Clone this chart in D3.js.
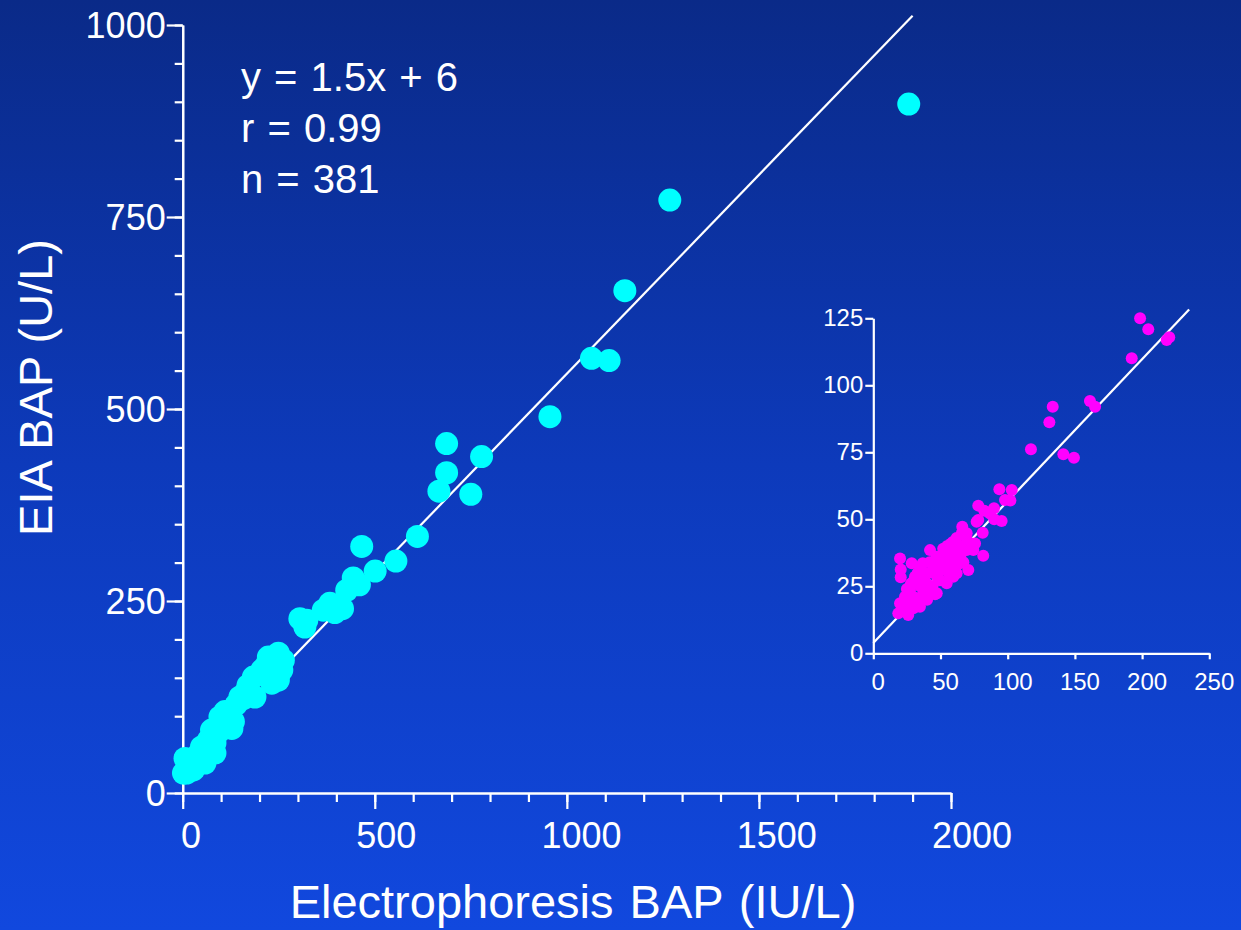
<!DOCTYPE html>
<html><head><meta charset="utf-8">
<script src="https://cdn.jsdelivr.net/npm/d3@7"></script>
<style>body{margin:0;padding:0;overflow:hidden}svg{display:block}text{font-family:"Liberation Sans",Arial,sans-serif;fill:#fff}</style>
</head><body>
<script>
// ---------- data ----------
const mainXTicks = [0, 500, 1000, 1500, 2000];
const mainYTicks = [0, 250, 500, 750, 1000];
const insetXTicks = [0, 50, 100, 150, 200, 250];
const insetYTicks = [0, 25, 50, 75, 100, 125];
const statsLines = ["y = 1.5x + 6", "r = 0.99", "n = 381"];
const xTitle = "Electrophoresis BAP (IU/L)";
const yTitle = "EIA BAP (U/L)";
// main fit line endpoints [x, y]
const mainFit = [[0, 28], [1900, 1012]];
// inset fit line endpoints
const insetFit = [[0, 3.8], [235, 128.3]];
// main scatter: Electrophoresis BAP (x), EIA BAP (y)
const mainX = [1890,1268,1151,1064,1110,956,687,778,687,667,750,611,555,466,501,444,460,427,383,416,396,366,305,323,318,249,223,262,258,249,232,184,167,149,188,158,110,97,128,132,75,67,84,84,49,36,19,6,58,10,2,28,45,62,80,106,119,139,206,14,30,40,95,120,170,215];
const mainY = [897,772,654,566,563,490,455,438,417,393,389,334,302,321,289,280,271,264,247,240,235,238,227,225,216,182,177,173,160,147,143,151,134,125,125,123,106,99,84,93,82,69,65,52,60,47,41,45,39,26,26,30,52,60,73,95,104,115,160,35,36,50,80,90,140,165];
// inset scatter
const insetX = [198.5,204.6,218.3,220.2,192.3,133.5,131,161.2,165,117.3,141.4,149.3,
 93.8,103,98,102,78.1,89.8,82.6,86.8,95.5,90,78.1,76.9,66.2,81.4,69.5,75.7,59.5,81.8,70.7,69.5,74.4,64.5,60,
 19.9,28.6,20.4,20.4,36.8,31,42.2,
 18.6,26,19.9,23.6,29.8,34.7,47.2,27.3,32.3,37.2,42.2,39.7,44.6,49.6,49.6,54.6,59.5,62,64.5,52.1,54.6,39.7,45,50,55,60,65,57,48,44,35,30,25,22,40,46,30,33,38,42,47,52,56,60,67,63,58,62,66,70,72,50,55,25,28,35];
const insetY = [125,120.9,116.9,117.9,110.1,92,86.2,94.1,92,76.1,74.3,73,
 61.2,60.9,57.2,57,55.1,54.1,53.2,52.2,49.4,50,49.7,49.1,47.2,45,44.8,41,41.6,36.4,31.1,38.5,38.5,40,38,
 35.4,33.6,31.3,28.4,33.6,28.6,38.5,
 14.9,14.3,18.7,21.1,16.8,17.4,22.4,23.6,19.9,22.4,23.6,26.1,32.3,34.8,27.3,26.1,28.6,29.9,33.6,32.3,36,29.9,30,31,33,35,37,38,28,25,25,21,19,17,20,22,27,30,28,34,36,39,30,31,34,36,41,43,45,42,40,36,40,24,26,32];

// ---------- drawing ----------
const W = 1241, H = 930;
const svg = d3.select("body").append("svg").attr("width", W).attr("height", H);
const defs = svg.append("defs");
const grad = defs.append("linearGradient").attr("id","bg").attr("x1",0).attr("y1",0).attr("x2",0).attr("y2",1);
grad.append("stop").attr("offset","0%").attr("stop-color","#0a2a88");
grad.append("stop").attr("offset","50%").attr("stop-color","#0d3abb");
grad.append("stop").attr("offset","100%").attr("stop-color","#1148de");
svg.append("rect").attr("width",W).attr("height",H).attr("fill","url(#bg)");

// main scales
const x = d3.scaleLinear().domain([0,2000]).range([182.7,951]);
const y = d3.scaleLinear().domain([0,1000]).range([793,25]);
const xLab = d3.scaleLinear().domain([0,2000]).range([191,972]);

function styleAxis(g){
  g.selectAll("path,line").attr("stroke","#fff").attr("stroke-width",2.2);
  g.selectAll("text").remove();
}
// y axis minor + major
svg.append("g").attr("transform",`translate(${x(0)},0)`)
  .call(d3.axisLeft(y).tickValues(d3.range(0,1001,50)).tickSize(8).tickSizeOuter(0)).call(styleAxis);
svg.append("g").attr("transform",`translate(${x(0)},0)`)
  .call(d3.axisLeft(y).tickValues(mainYTicks).tickSize(16).tickSizeOuter(0)).call(styleAxis);
// x axis minor + major
svg.append("g").attr("transform",`translate(0,${y(0)})`)
  .call(d3.axisBottom(x).tickValues(d3.range(0,2001,100)).tickSize(9).tickSizeOuter(0)).call(styleAxis);
svg.append("g").attr("transform",`translate(0,${y(0)})`)
  .call(d3.axisBottom(x).tickValues(mainXTicks).tickSize(16).tickSizeOuter(0)).call(styleAxis);

svg.append("g").selectAll("text").data(mainYTicks).join("text")
  .attr("x", x(0)-17).attr("y", d=>y(d)).attr("dy","0.36em")
  .attr("text-anchor","end").attr("font-size",36).text(d=>d);
svg.append("g").selectAll("text").data(mainXTicks).join("text")
  .attr("x", d=>xLab(d)).attr("y", 848)
  .attr("text-anchor","middle").attr("font-size",36).text(d=>d);

svg.append("text").attr("x",573).attr("y",918).attr("text-anchor","middle")
  .attr("font-size",47).attr("word-spacing",3).text(xTitle);
svg.append("text").attr("transform","translate(51.5,387.5) rotate(-90)").attr("text-anchor","middle")
  .attr("font-size",47).text(yTitle);

svg.append("g").selectAll("text").data(statsLines).join("text")
  .attr("x",241).attr("y",(d,i)=>91+i*51).attr("font-size",40).attr("word-spacing",2).text(d=>d);

// fit line
svg.append("line").attr("x1",x(mainFit[0][0])).attr("y1",y(mainFit[0][1]))
  .attr("x2",x(mainFit[1][0])).attr("y2",y(mainFit[1][1]))
  .attr("stroke","#fff").attr("stroke-width",2.2);
svg.append("g").selectAll("circle").data(mainX.map((v,i)=>[v,mainY[i]])).join("circle")
  .attr("cx",d=>x(d[0])).attr("cy",d=>y(d[1])).attr("r",11.5).attr("fill","#00ffff");

// inset
const ix = d3.scaleLinear().domain([0,250]).range([873.3,1209.3]);
const iy = d3.scaleLinear().domain([0,125]).range([653.3,318.3]);
function styleInset(g){
  g.selectAll("path,line").attr("stroke","#fff").attr("stroke-width",2.2);
  g.selectAll("text").remove();
}
svg.append("g").attr("transform",`translate(${ix(0)},0)`)
  .call(d3.axisLeft(iy).tickValues(insetYTicks).tickSize(8).tickSizeOuter(0)).call(styleInset);
svg.append("g").attr("transform",`translate(0,${iy(0)})`)
  .call(d3.axisBottom(ix).tickValues(insetXTicks).tickSize(6).tickSizeOuter(0)).call(styleInset);
svg.append("g").selectAll("text").data(insetYTicks).join("text")
  .attr("x", ix(0)-10).attr("y", d=>iy(d)).attr("dy","0.3em")
  .attr("text-anchor","end").attr("font-size",24).text(d=>d);
svg.append("g").selectAll("text").data(insetXTicks).join("text")
  .attr("x", d=>ix(d)+5).attr("y", 690)
  .attr("text-anchor","middle").attr("font-size",24).text(d=>d);
svg.append("line").attr("x1",ix(insetFit[0][0])).attr("y1",iy(insetFit[0][1]))
  .attr("x2",ix(insetFit[1][0])).attr("y2",iy(insetFit[1][1]))
  .attr("stroke","#fff").attr("stroke-width",2.2);
svg.append("g").selectAll("circle").data(insetX.map((v,i)=>[v,insetY[i]])).join("circle")
  .attr("cx",d=>ix(d[0])).attr("cy",d=>iy(d[1])).attr("r",6).attr("fill","#ff00ff");
</script>
</body></html>
